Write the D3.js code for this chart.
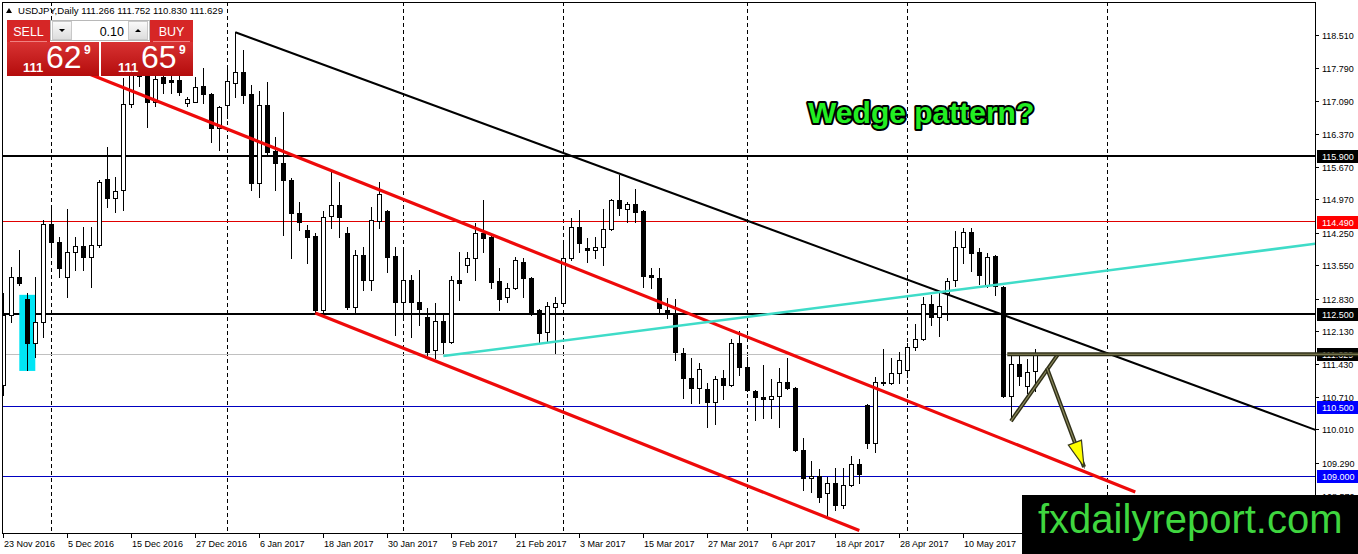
<!DOCTYPE html>
<html><head><meta charset="utf-8">
<script src="https://cdn.jsdelivr.net/npm/d3@7"></script>
<style>
body{margin:0;background:#fff;overflow:hidden;}
svg{display:block;font-family:"Liberation Sans",Arial,sans-serif;}
</style>
</head><body>
<svg id="c" width="1358" height="554"></svg>
<script>
// ---------------- data ----------------
const symbolTitle = "USDJPY,Daily";
const lastBar = [111.266, 111.752, 110.830, 111.629];
const sellQuote = ["111", "62", "9"];
const buyQuote = ["111", "65", "9"];
const lotSize = "0.10";

const dateLabels = ["23 Nov 2016","5 Dec 2016","15 Dec 2016","27 Dec 2016","6 Jan 2017","18 Jan 2017",
  "30 Jan 2017","9 Feb 2017","21 Feb 2017","3 Mar 2017","15 Mar 2017","27 Mar 2017","6 Apr 2017",
  "18 Apr 2017","28 Apr 2017","10 May 2017","22 May 2017"];
const barsPerLabel = 8;
const monthGridBars = [6, 28, 50, 70, 93, 113, 138];

const opens = [110.97,112.48,113.29,112.82,111.87,112.32,114.44,114.05,113.29,113.83,
113.96,113.72,113.98,115.41,115.00,115.17,117.02,117.75,117.62,117.07,
117.60,117.55,117.54,117.05,117.07,117.41,117.24,116.51,117.00,117.48,
117.71,117.24,115.32,117.00,116.01,115.75,115.38,114.67,114.31,114.18,
112.58,114.61,114.85,114.24,112.65,113.77,113.23,114.50,114.72,113.75,
112.76,113.23,112.76,112.43,111.72,112.35,111.89,113.23,113.55,113.70,
114.24,114.16,113.21,112.86,113.06,113.62,113.27,112.58,112.11,112.65,
112.73,113.70,114.37,113.92,113.88,113.94,114.33,114.95,114.76,114.87,
114.72,113.34,113.27,112.58,112.48,111.66,111.12,110.90,110.88,110.60,
111.12,110.97,111.87,111.35,110.84,110.71,110.66,110.73,111.03,110.90,
109.57,108.96,109.01,108.64,108.86,108.38,108.81,109.26,110.54,109.72,
111.03,111.01,111.22,111.29,111.79,111.96,112.71,112.43,112.95,113.23,
113.94,114.26,113.83,113.12,113.75,113.08,110.73,111.42,110.94,111.266];
const highs = [112.95,113.51,113.88,112.95,113.29,114.52,114.80,114.16,114.76,114.16,
114.37,114.37,115.38,116.10,115.45,117.58,118.05,118.00,117.90,117.80,
117.85,117.70,117.70,117.17,117.60,117.80,117.26,116.98,117.82,118.57,
118.19,117.43,117.30,117.50,116.31,116.85,115.43,114.90,114.42,114.24,
114.72,115.56,115.34,114.37,113.88,113.94,114.80,115.34,114.74,113.94,
113.92,113.34,113.44,112.63,112.73,112.52,113.32,113.83,113.83,114.46,
114.95,114.18,113.49,113.16,113.72,113.70,113.30,112.60,112.76,112.86,
114.03,114.57,114.74,114.13,114.16,114.76,114.98,115.49,114.91,115.19,
114.74,113.49,113.49,112.84,112.82,111.76,111.55,111.44,111.01,111.16,
111.29,111.96,112.13,111.57,110.86,111.40,111.10,111.33,111.55,110.92,
109.82,109.33,109.16,108.98,109.18,109.18,109.44,109.37,110.56,111.14,
111.74,111.55,111.68,111.87,112.28,112.86,112.91,112.95,113.27,114.29,
114.35,114.35,113.92,113.81,113.77,113.10,111.66,111.61,111.53,111.752];
const lows = [110.75,112.32,113.12,111.29,111.57,112.00,113.81,113.29,112.86,113.44,
113.44,113.08,113.94,114.80,114.70,114.74,116.95,117.40,116.53,116.98,
117.26,117.26,117.22,116.98,117.07,117.04,116.20,116.03,116.72,117.17,
117.04,115.17,115.02,115.92,115.17,114.20,113.70,114.30,113.60,112.52,
112.54,114.35,114.16,112.60,112.52,113.01,113.01,114.35,113.40,112.04,
112.37,112.00,112.26,111.61,111.55,111.66,111.87,112.80,113.40,113.23,
113.83,113.06,112.58,112.76,113.04,112.86,112.48,111.89,111.89,111.66,
112.70,113.66,113.83,113.62,113.70,113.55,114.31,114.63,114.48,114.48,
113.08,113.06,112.52,112.41,111.50,110.69,110.58,110.58,110.06,110.13,
110.66,110.95,111.18,110.84,110.21,110.26,110.26,110.06,110.88,109.55,
108.70,108.66,108.45,108.10,108.27,108.32,108.79,108.86,109.61,109.52,
110.97,110.99,111.01,111.14,111.72,111.94,112.26,112.02,112.37,113.10,
113.60,113.42,113.14,113.08,112.91,110.71,110.21,110.97,110.79,110.830];
const closes = [112.48,113.29,113.16,111.87,112.32,114.44,114.05,113.49,113.83,113.96,
113.72,113.98,115.34,115.00,115.15,117.02,117.75,117.62,117.07,117.56,
117.48,117.50,117.28,117.12,117.39,117.24,116.51,116.96,117.52,117.71,
117.22,115.32,117.00,115.99,115.75,115.38,114.67,114.48,114.16,112.58,
114.59,114.85,114.59,112.65,113.77,113.23,114.52,115.08,113.72,112.76,
113.23,112.76,112.60,111.68,112.35,111.89,113.23,113.16,113.70,114.24,
114.13,113.19,112.82,113.06,113.66,113.27,112.52,112.09,112.67,112.73,
113.70,114.37,114.03,113.88,113.94,114.33,114.95,114.78,114.87,114.70,
113.32,113.29,112.63,112.52,111.68,111.12,110.90,111.31,110.60,111.10,
110.97,111.87,111.35,110.86,110.71,110.66,110.73,111.03,110.90,109.57,
108.96,109.01,108.55,108.86,108.38,108.81,109.26,109.05,109.72,111.03,
111.01,111.22,111.50,111.79,111.96,112.71,112.43,112.67,113.21,113.94,
114.26,113.81,113.34,113.72,113.10,110.73,111.42,111.16,111.25,111.629];

const priceTicks = [118.51,117.79,117.09,116.37,115.67,114.97,114.25,113.55,112.83,112.13,111.43,110.71,110.01,109.29,108.57];
const levels = [115.9, 114.49, 112.5, 111.629, 110.5, 109.0];

// trend lines: [barIndex, price] endpoints
const blackTrend = [[29, 118.57], [164, 110.00]];
const redUpper = [[8, 117.86], [141.5, 108.66]];
const redLower = [[39, 112.52], [107, 107.83]];
const cyanTrend = [[55, 111.59], [164, 114.01]];
const wedgeTop = [[125.5, 111.629], [170, 111.629]];
const wedgeBottom = [[125.96, 110.19], [131.85, 111.63]];
const arrowPath = [[130.46, 111.33], [135.09, 109.20]];
const highlightBox = [[2, 112.91], [4, 111.27]];
const noteText = "Wedge pattern?";
const notePos = [100.6, 116.61];
const siteName = "fxdailyreport.com";

// ---------------- layout ----------------
const W = 1358, H = 554;
const P = {left: 2, right: 1315, top: 2, bottom: 533};
const x = d3.scaleLinear().domain([0, 164]).range([3.3, 1315.3]);
const y = d3.scaleLinear().domain([107.777, 119.221]).range([533, 2]);
const svg = d3.select("#c");

const defs = svg.append("defs");
defs.append("clipPath").attr("id", "plotClip").append("rect")
  .attr("x", P.left).attr("y", P.top).attr("width", P.right - P.left).attr("height", P.bottom - P.top);
const gr = defs.append("linearGradient").attr("id", "redG").attr("x1", 0).attr("x2", 0).attr("y1", 0).attr("y2", 1);
gr.append("stop").attr("offset", "0%").attr("stop-color", "#d83232");
gr.append("stop").attr("offset", "100%").attr("stop-color", "#b40c0c");
const gr2 = defs.append("linearGradient").attr("id", "btnG").attr("x1", 0).attr("x2", 0).attr("y1", 0).attr("y2", 1);
gr2.append("stop").attr("offset", "0%").attr("stop-color", "#fafafa");
gr2.append("stop").attr("offset", "100%").attr("stop-color", "#dcdcdc");

svg.append("rect").attr("width", W).attr("height", H).attr("fill", "#fff");

const plot = svg.append("g").attr("clip-path", "url(#plotClip)");

// month grid
plot.selectAll("line.grid").data(monthGridBars).enter().append("line")
  .attr("x1", d => Math.floor(x(d)) + 0.5).attr("x2", d => Math.floor(x(d)) + 0.5)
  .attr("y1", P.top).attr("y2", P.bottom)
  .attr("stroke", "#000").attr("stroke-width", 1).attr("stroke-dasharray", "4,3");

// level lines
const levelStyle = [
  {c: "#000", w: 2, bg: "#000"},
  {c: "#e00000", w: 1, bg: "#ff0000"},
  {c: "#000", w: 2, bg: "#000"},
  {c: "#c0c0c0", w: 1, bg: "#000"},
  {c: "#0000c0", w: 1, bg: "#0000ff"},
  {c: "#0000c0", w: 1, bg: "#0000ff"}
];
levels.forEach((p, k) => {
  const s = levelStyle[k];
  const yy = s.w === 2 ? Math.round(y(p)) : Math.floor(y(p)) + 0.5;
  plot.append("line").attr("x1", P.left).attr("x2", P.right).attr("y1", yy).attr("y2", yy)
    .attr("stroke", s.c).attr("stroke-width", s.w);
});

// highlight box
plot.append("rect")
  .attr("x", x(highlightBox[0][0])).attr("y", y(highlightBox[0][1]))
  .attr("width", x(highlightBox[1][0]) - x(highlightBox[0][0]))
  .attr("height", y(highlightBox[1][1]) - y(highlightBox[0][1]))
  .attr("fill", "#00e5f5");

// candles
const candles = opens.map((o, i) => ({i, o, h: highs[i], l: lows[i], c: closes[i]}));
const cg = plot.append("g");
candles.forEach(d => {
  const cx = Math.floor(x(d.i));
  cg.append("line").attr("x1", cx + 0.5).attr("x2", cx + 0.5)
    .attr("y1", Math.round(y(d.h))).attr("y2", Math.round(y(d.l)) + 1)
    .attr("stroke", "#000").attr("stroke-width", 1);
  const top = Math.round(y(Math.max(d.o, d.c)));
  const bot = Math.round(y(Math.min(d.o, d.c)));
  if (d.c >= d.o) {
    cg.append("rect").attr("x", cx - 1.5).attr("y", top + 0.5)
      .attr("width", 4).attr("height", Math.max(0, bot - top))
      .attr("fill", "#fff").attr("stroke", "#000").attr("stroke-width", 1);
  } else {
    cg.append("rect").attr("x", cx - 2).attr("y", top)
      .attr("width", 5).attr("height", Math.max(1, bot - top + 1)).attr("fill", "#000");
  }
});

// trend lines
function seg(pts, color, width) {
  plot.append("line")
    .attr("x1", x(pts[0][0])).attr("y1", y(pts[0][1]))
    .attr("x2", x(pts[1][0])).attr("y2", y(pts[1][1]))
    .attr("stroke", color).attr("stroke-width", width).attr("stroke-linecap", "butt");
}
seg(redUpper, "#ee0a0a", 3.2);
seg(redLower, "#ee0a0a", 3.2);
seg(blackTrend, "#000", 2);
seg(cyanTrend, "#3fdcc8", 2.5);

// wedge annotation (olive)
function olive(pts, target) {
  const g = target || plot;
  [["#2f2f18", 4], ["#8c8a5c", 1.2]].forEach(([c, w]) => {
    g.append("line")
      .attr("x1", x(pts[0][0])).attr("y1", y(pts[0][1]))
      .attr("x2", x(pts[1][0])).attr("y2", y(pts[1][1]))
      .attr("stroke", c).attr("stroke-width", w);
  });
}
olive(wedgeBottom);
olive(arrowPath);
// arrowhead
{
  const x1 = x(arrowPath[0][0]), y1 = y(arrowPath[0][1]);
  const x2 = x(arrowPath[1][0]), y2 = y(arrowPath[1][1]);
  const len = Math.hypot(x2 - x1, y2 - y1), ux = (x2 - x1) / len, uy = (y2 - y1) / len;
  const bx = x2 - 26 * ux, by = y2 - 26 * uy, nx = -uy, ny = ux;
  plot.append("path")
    .attr("d", `M${x2},${y2}L${bx + 7 * nx},${by + 7 * ny}L${bx - 7 * nx},${by - 7 * ny}Z`)
    .attr("fill", "#ffff00").attr("stroke", "#3a3a1e").attr("stroke-width", 1.2);
}

// frame
svg.append("rect").attr("x", P.left + 0.5).attr("y", P.top + 0.5)
  .attr("width", P.right - P.left).attr("height", P.bottom - P.top)
  .attr("fill", "none").attr("stroke", "#000").attr("stroke-width", 1);

// right axis
const fmt = d3.format(".3f");
const ax = svg.append("g").attr("font-size", 9).attr("fill", "#000");
priceTicks.forEach(p => {
  const yy = Math.round(y(p)) + 0.5;
  ax.append("line").attr("x1", P.right).attr("x2", P.right + 4).attr("y1", yy).attr("y2", yy).attr("stroke", "#000");
  ax.append("text").attr("x", 1322).attr("y", yy).attr("dy", "0.35em").text(fmt(p));
});
levels.forEach((p, k) => {
  const s = levelStyle[k];
  const yy = Math.round(y(p));
  ax.append("rect").attr("x", P.right + 2).attr("y", yy - 6).attr("width", W - P.right - 2).attr("height", 13).attr("fill", s.bg);
  ax.append("text").attr("x", 1322).attr("y", yy + 0.5).attr("dy", "0.35em").attr("fill", "#fff").text(fmt(p));
});
// olive horizontal, running over its price label
olive(wedgeTop, svg);

// bottom axis
const bxg = svg.append("g").attr("font-size", 9).attr("fill", "#000");
dateLabels.forEach((t, k) => {
  const xx = Math.floor(x(k * barsPerLabel)) + 0.5;
  bxg.append("line").attr("x1", xx).attr("x2", xx).attr("y1", P.bottom).attr("y2", P.bottom + 5).attr("stroke", "#000");
  bxg.append("text").attr("x", xx + 0.5).attr("y", 547).text(t);
});

// header
svg.append("path").attr("d", "M6,13L12,13L9,8Z").attr("fill", "#000");
svg.append("text").attr("x", 18).attr("y", 14).attr("font-size", 9.6).attr("fill", "#000")
  .text(symbolTitle + "  " + lastBar.map(fmt).join(" "));

// trade panel
const tp = svg.append("g");
tp.append("rect").attr("x", 7).attr("y", 20).attr("width", 43).attr("height", 22).attr("fill", "#d62626");
tp.append("rect").attr("x", 150).attr("y", 20).attr("width", 43).attr("height", 22).attr("fill", "#d62626");
tp.append("rect").attr("x", 7).attr("y", 42).attr("width", 92).attr("height", 34).attr("fill", "url(#redG)");
tp.append("rect").attr("x", 101).attr("y", 42).attr("width", 92).attr("height", 34).attr("fill", "url(#redG)");
tp.append("line").attr("x1", 10).attr("x2", 47).attr("y1", 41.5).attr("y2", 41.5).attr("stroke", "#f08080");
tp.append("line").attr("x1", 153).attr("x2", 190).attr("y1", 41.5).attr("y2", 41.5).attr("stroke", "#f08080");
tp.append("text").attr("x", 28.5).attr("y", 36).attr("text-anchor", "middle").attr("font-size", 12.5).attr("fill", "#fff").text("SELL");
tp.append("text").attr("x", 171.5).attr("y", 36).attr("text-anchor", "middle").attr("font-size", 12.5).attr("fill", "#fff").text("BUY");
// spinner
tp.append("rect").attr("x", 50.5).attr("y", 20.5).attr("width", 99).attr("height", 20).attr("fill", "#fff").attr("stroke", "#b8b8b8");
tp.append("rect").attr("x", 52.5).attr("y", 21.5).attr("width", 19).attr("height", 18).attr("fill", "url(#btnG)").attr("stroke", "#c8c8c8");
tp.append("rect").attr("x", 128.5).attr("y", 21.5).attr("width", 19).attr("height", 18).attr("fill", "url(#btnG)").attr("stroke", "#c8c8c8");
tp.append("path").attr("d", "M59,29L65,29L62,32Z").attr("fill", "#000");
tp.append("path").attr("d", "M135,32L141,32L138,29Z").attr("fill", "#000");
tp.append("text").attr("x", 124).attr("y", 35.5).attr("text-anchor", "end").attr("font-size", 12.5).attr("fill", "#000").text(lotSize);
function quote(x0, q) {
  tp.append("text").attr("x", x0).attr("y", 72).attr("font-size", 13).attr("font-weight", "bold").attr("fill", "#fff").text(q[0]);
  tp.append("text").attr("x", x0 + 23).attr("y", 68).attr("font-size", 32).attr("fill", "#fff").text(q[1]);
  tp.append("text").attr("x", x0 + 61).attr("y", 54).attr("font-size", 12).attr("font-weight", "bold").attr("fill", "#fff").text(q[2]);
}
quote(23, sellQuote);
quote(118, buyQuote);

// note text
svg.append("text").attr("x", x(notePos[0])).attr("y", y(notePos[1]))
  .attr("font-size", 30).attr("font-weight", "bold")
  .attr("fill", "#22ee22").attr("stroke", "#000").attr("stroke-width", 4)
  .attr("stroke-linejoin", "round").attr("paint-order", "stroke").text(noteText);

// logo
svg.append("rect").attr("x", 1022).attr("y", 495).attr("width", W - 1022).attr("height", H - 495).attr("fill", "#000");
svg.append("text").attr("x", 1038).attr("y", 533).attr("font-size", 40).attr("fill", "#3fd63f").text(siteName);
</script>
</body></html>
